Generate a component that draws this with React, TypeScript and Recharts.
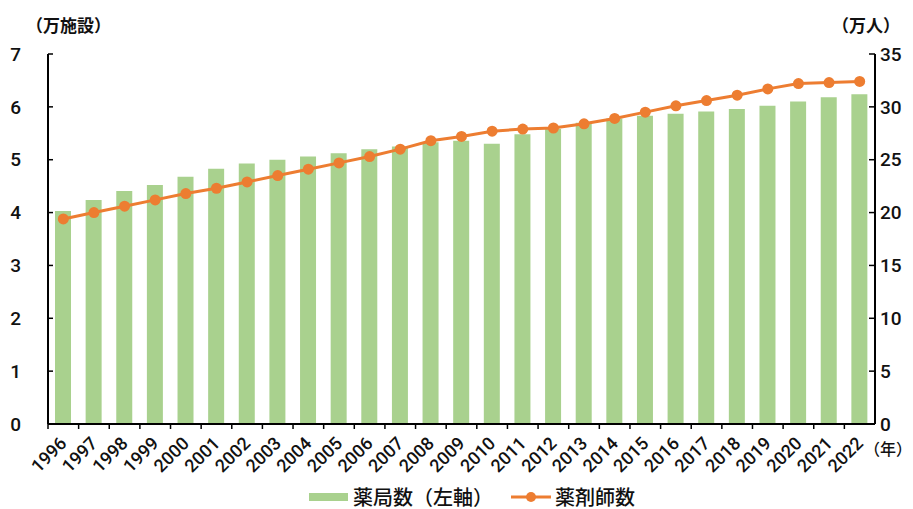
import React from "react";
import {
  ComposedChart,
  Bar,
  Line,
  XAxis,
  YAxis,
  Legend,
} from "recharts";

const years = [
  "1996", "1997", "1998", "1999", "2000", "2001", "2002", "2003", "2004",
  "2005", "2006", "2007", "2008", "2009", "2010", "2011", "2012", "2013",
  "2014", "2015", "2016", "2017", "2018", "2019", "2020", "2021", "2022",
];

// 薬局数（万施設）
const pharmacies = [
  4.03, 4.24, 4.41, 4.52, 4.68, 4.83, 4.93, 5.0, 5.06,
  5.12, 5.2, 5.25, 5.33, 5.36, 5.3, 5.48, 5.58, 5.7,
  5.78, 5.83, 5.87, 5.91, 5.96, 6.02, 6.1, 6.18, 6.24,
];

// 薬剤師数（万人）
const pharmacists = [
  19.4, 20.0, 20.6, 21.2, 21.8, 22.3, 22.9, 23.5, 24.1,
  24.7, 25.3, 26.0, 26.8, 27.2, 27.7, 27.9, 28.0, 28.4,
  28.9, 29.5, 30.1, 30.6, 31.1, 31.7, 32.2, 32.3, 32.4,
];

const leftTicks = [0, 1, 2, 3, 4, 5, 6, 7];
const rightTicks = [0, 5, 10, 15, 20, 25, 30, 35];

const data = years.map((year, i) => ({
  year,
  pharmacies: pharmacies[i],
  pharmacists: pharmacists[i],
}));

const WIDTH = 913;
const HEIGHT = 509;
const LEFT_AXIS = 48;
const RIGHT_AXIS = 875;
const BAND = (RIGHT_AXIS - LEFT_AXIS) / years.length;

const numFont = "Roboto, 'Noto Sans', sans-serif";
const jpFont = "'Noto Sans CJK JP', sans-serif";
const GREEN = "#A9D18E";
const ORANGE = "#ED7D31";

function XTick(props: any) {
  const { x, y, payload } = props;
  return (
    <g transform={`translate(${x},${y})`}>
      <line x1={-BAND / 2} x2={-BAND / 2} y1={0} y2={5} stroke="#000" strokeWidth={1.5} />
      <text
        transform="translate(0,16) rotate(-45)"
        textAnchor="end"
        dy="0.35em"
        fontFamily={numFont}
        fontWeight={500}
        fontSize={18}
        fill="#111"
      >
        {payload.value}
      </text>
    </g>
  );
}

function LeftTick(props: any) {
  const { y, payload } = props;
  return (
    <g>
      <line x1={LEFT_AXIS} x2={LEFT_AXIS + 5} y1={y} y2={y} stroke="#000" strokeWidth={1.5} />
      <text x={21} y={y} dy="0.35em" textAnchor="end" fontFamily={numFont} fontWeight={500} fontSize={19} fill="#111">
        {payload.value}
      </text>
    </g>
  );
}

function RightTick(props: any) {
  const { y, payload } = props;
  return (
    <g>
      <line x1={RIGHT_AXIS - 6} x2={RIGHT_AXIS} y1={y} y2={y} stroke="#000" strokeWidth={1.5} />
      <text x={880} y={y} dy="0.35em" textAnchor="start" fontFamily={numFont} fontWeight={500} fontSize={19} fill="#111">
        {payload.value}
      </text>
    </g>
  );
}

function LegendContent() {
  return (
    <div
      style={{
        height: 35,
        boxSizing: "border-box",
        paddingTop: 10,
        paddingLeft: 309,
        display: "flex",
        alignItems: "center",
        fontFamily: jpFont,
        fontSize: 20,
        fontWeight: 500,
        color: "#111",
        lineHeight: 1,
      }}
    >
      <span style={{ display: "inline-block", width: 39, height: 8, background: GREEN }} />
      <span style={{ marginLeft: 5 }}>薬局数（左軸）</span>
      <svg width={40} height={12} style={{ marginLeft: 18 }}>
        <line x1={0} x2={40} y1={6} y2={6} stroke={ORANGE} strokeWidth={3} />
        <circle cx={20} cy={6} r={5} fill={ORANGE} />
      </svg>
      <span style={{ marginLeft: 4 }}>薬剤師数</span>
    </div>
  );
}

const labelStyle: React.CSSProperties = {
  position: "absolute",
  fontFamily: jpFont,
  fontSize: 17,
  fontWeight: 700,
  lineHeight: 1,
  color: "#111",
  whiteSpace: "nowrap",
};

export default function App() {
  return (
    <div style={{ position: "absolute", left: 0, top: 0, width: WIDTH, height: HEIGHT, background: "#fff" }}>
      <ComposedChart
        width={WIDTH}
        height={HEIGHT}
        data={data}
        margin={{ top: 54, right: 0, bottom: 0, left: 0 }}
      >
        <XAxis
          dataKey="year"
          height={50}
          interval={0}
          tickLine={false}
          tickSize={0}
          tickMargin={0}
          tick={<XTick />}
          axisLine={{ stroke: "#000", strokeWidth: 2 }}
        />
        <YAxis
          yAxisId="left"
          orientation="left"
          width={LEFT_AXIS}
          domain={[0, 7]}
          ticks={leftTicks}
          interval={0}
          tickLine={false}
          tick={<LeftTick />}
          axisLine={{ stroke: "#000", strokeWidth: 2 }}
        />
        <YAxis
          yAxisId="right"
          orientation="right"
          width={WIDTH - RIGHT_AXIS}
          domain={[0, 35]}
          ticks={rightTicks}
          interval={0}
          tickLine={false}
          tick={<RightTick />}
          axisLine={{ stroke: "#000", strokeWidth: 2 }}
        />
        <Bar
          yAxisId="left"
          dataKey="pharmacies"
          name="薬局数（左軸）"
          fill={GREEN}
          barSize={16}
          isAnimationActive={false}
        />
        <Line
          yAxisId="right"
          dataKey="pharmacists"
          name="薬剤師数"
          stroke={ORANGE}
          strokeWidth={3}
          dot={{ r: 5.5, fill: ORANGE, stroke: ORANGE, strokeWidth: 0 }}
          activeDot={false}
          isAnimationActive={false}
        />
        <Legend verticalAlign="bottom" height={35} content={<LegendContent />} />
      </ComposedChart>
      <div style={{ ...labelStyle, left: 26, top: 16 }}>（万施設）</div>
      <div style={{ ...labelStyle, left: 832, top: 16 }}>（万人）</div>
      <div style={{ ...labelStyle, left: 864, top: 440, fontSize: 16, fontWeight: 500 }}>（年）</div>
    </div>
  );
}
